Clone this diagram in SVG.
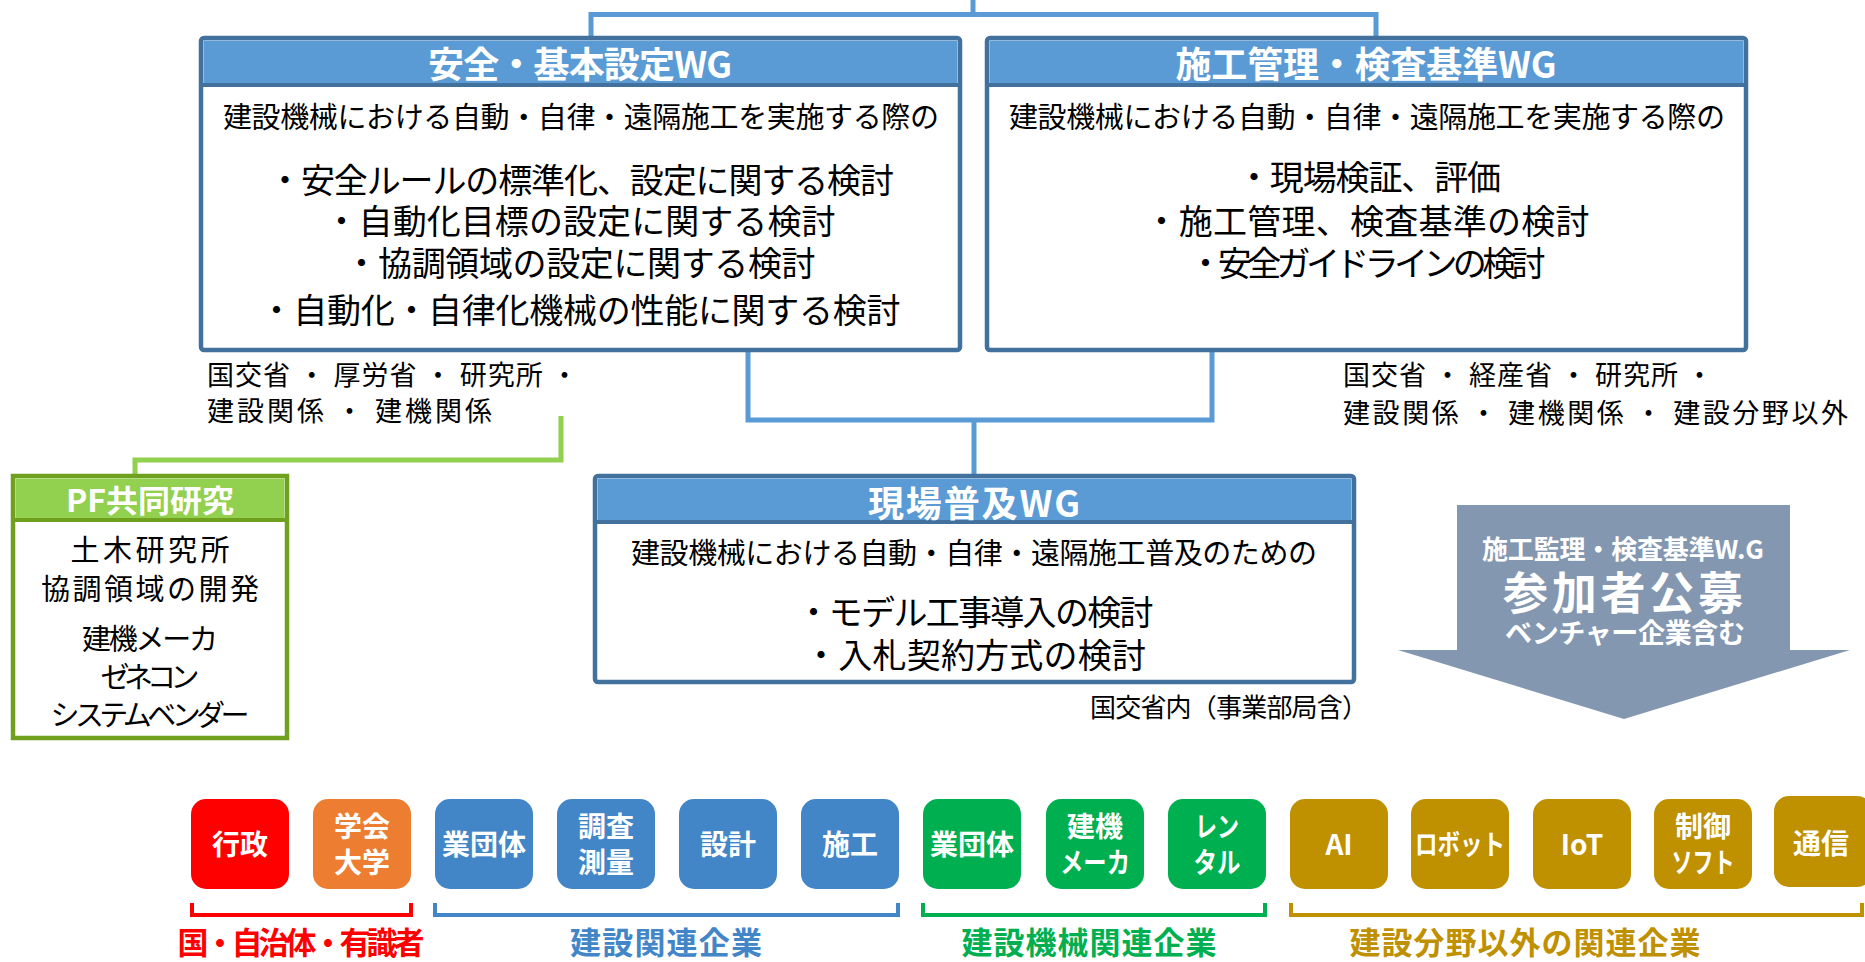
<svg xmlns="http://www.w3.org/2000/svg" width="1865" height="962" viewBox="0 0 1865 962">
<style>
text{font-family:"Noto Sans CJK JP","Noto Sans",sans-serif;dominant-baseline:central;text-anchor:middle}
.hd{font-size:36px;font-weight:bold;fill:#fff}
.l1{font-size:29px;fill:#000}
.bl{font-size:34px;fill:#000}
.nt{font-size:27px;fill:#000;text-anchor:start}
.wg{fill:#fff;stroke:#41719C;stroke-width:4.5}
.wgh{fill:#5B9BD5}
.sep{stroke:#41719C;stroke-width:4}
.con{fill:none;stroke:#5B9BD5;stroke-width:5}
.bx{font-size:28px;font-weight:bold;fill:#fff}
.lab{font-size:31px;font-weight:bold}
.br{fill:none;stroke-width:4}
.pf{font-size:29px;fill:#000}
</style>

<g id="connectors">
<polyline class="con" points="973,0 973,14.5"/>
<polyline class="con" points="591,38 591,14.5 1376,14.5 1376,38"/>
<polyline class="con" points="748,350 748,420 1212,420 1212,350"/>
<polyline class="con" points="974,420 974,476"/>
<polyline fill="none" stroke="#92D050" stroke-width="5" points="561,416 561,460 135,460 135,476"/>
</g>

<g id="wg-safety">
<rect class="wg" x="201" y="38" width="759" height="312" rx="3"/>
<rect class="wgh" x="203.5" y="40.5" width="754" height="44"/>
<line class="sep" x1="201" y1="85" x2="960" y2="85"/>
<text class="hd" x="580" y="62" textLength="304">安全・基本設定WG</text>
<text class="l1" x="581" y="115" textLength="716">建設機械における自動・自律・遠隔施工を実施する際の</text>
<text class="bl" x="581" y="178" textLength="626">・安全ルールの標準化、設定に関する検討</text>
<text class="bl" x="580" y="219" textLength="511">・自動化目標の設定に関する検討</text>
<text class="bl" x="580" y="261" textLength="471">・協調領域の設定に関する検討</text>
<text class="bl" x="580" y="308" textLength="641">・自動化・自律化機械の性能に関する検討</text>
</g>

<g id="wg-construction">
<rect class="wg" x="987" y="38" width="759" height="312" rx="3"/>
<rect class="wgh" x="989.5" y="40.5" width="754" height="44"/>
<line class="sep" x1="987" y1="85" x2="1746" y2="85"/>
<text class="hd" x="1366" y="62" textLength="381">施工管理・検査基準WG</text>
<text class="l1" x="1367" y="115" textLength="716">建設機械における自動・自律・遠隔施工を実施する際の</text>
<text class="bl" x="1369" y="175" textLength="264">・現場検証、評価</text>
<text class="bl" x="1367" y="219" textLength="445">・施工管理、検査基準の検討</text>
<text class="bl" x="1367" y="261" textLength="357">・安全ガイドラインの検討</text>
</g>

<g id="note-safety">
<text class="nt" x="207" y="373" textLength="371">国交省 ・ 厚労省 ・ 研究所 ・</text>
<text class="nt" x="207" y="409" textLength="285">建設関係 ・ 建機関係</text>
</g>

<g id="note-construction">
<text class="nt" x="1343" y="373" textLength="370">国交省 ・ 経産省 ・ 研究所 ・</text>
<text class="nt" x="1343" y="411" textLength="505">建設関係 ・ 建機関係 ・ 建設分野以外</text>
</g>

<g id="pf">
<rect x="13" y="476" width="274" height="262" fill="#fff" stroke="#6FA01E" stroke-width="4.5"/>
<rect x="15.5" y="478.5" width="269" height="41" fill="#92D050"/>
<line x1="13" y1="520" x2="287" y2="520" stroke="#6FA01E" stroke-width="4"/>
<text x="150" y="498" font-size="31" font-weight="bold" fill="#fff" textLength="168" lengthAdjust="spacingAndGlyphs">PF共同研究</text>
<text class="pf" x="150" y="548" textLength="159">土木研究所</text>
<text class="pf" x="150" y="587" textLength="218">協調領域の開発</text>
<text class="pf" x="150" y="637" textLength="136">建機メーカ</text>
<text class="pf" x="150" y="675" textLength="99">ゼネコン</text>
<text class="pf" x="150" y="713" textLength="199">システムベンダー</text>
</g>

<g id="wg-field">
<rect class="wg" x="595" y="476" width="759" height="206" rx="3"/>
<rect class="wgh" x="597.5" y="478.5" width="754" height="43"/>
<line class="sep" x1="595" y1="522" x2="1354" y2="522"/>
<text class="hd" x="974" y="501" textLength="212">現場普及WG</text>
<text class="l1" x="974" y="551" textLength="686">建設機械における自動・自律・遠隔施工普及のための</text>
<text class="bl" x="975" y="610" textLength="357">・モデル工事導入の検討</text>
<text class="bl" x="975" y="653" textLength="342">・入札契約方式の検討</text>
</g>

<g id="note-field">
<text x="1090" y="705" font-size="26" fill="#000" style="text-anchor:start" textLength="278">国交省内（事業部局含）</text>
</g>

<g id="recruit-arrow">
<polygon points="1457,505 1790,505 1790,650 1850,650 1624,719 1398,650 1457,650" fill="#8497B0"/>
<text x="1623" y="547" font-size="26" font-weight="bold" fill="#fff" textLength="282">施工監理・検査基準W.G</text>
<text x="1623" y="590" font-size="45" font-weight="bold" fill="#fff" textLength="240">参加者公募</text>
<text x="1625" y="631" font-size="27" font-weight="bold" fill="#fff" textLength="240">ベンチャー企業含む</text>
</g>

<g id="members">
<g id="m-gyosei"><rect x="191" y="799" width="98" height="90" rx="15" fill="#FF0000"/><text class="bx" x="240" y="843">行政</text></g>
<g id="m-gakkai"><rect x="313" y="799" width="98" height="90" rx="15" fill="#ED7D31"/><text class="bx" x="362" y="825">学会</text><text class="bx" x="362" y="861">大学</text></g>
<g id="m-gyodantai1"><rect x="435" y="799" width="98" height="90" rx="15" fill="#4286C8"/><text class="bx" x="484" y="843">業団体</text></g>
<g id="m-chosa"><rect x="557" y="799" width="98" height="90" rx="15" fill="#4286C8"/><text class="bx" x="606" y="825">調査</text><text class="bx" x="606" y="861">測量</text></g>
<g id="m-sekkei"><rect x="679" y="799" width="98" height="90" rx="15" fill="#4286C8"/><text class="bx" x="728" y="843">設計</text></g>
<g id="m-sekou"><rect x="801" y="799" width="98" height="90" rx="15" fill="#4286C8"/><text class="bx" x="850" y="843">施工</text></g>
<g id="m-gyodantai2"><rect x="923" y="799" width="98" height="90" rx="15" fill="#00B050"/><text class="bx" x="972" y="843">業団体</text></g>
<g id="m-kenki"><rect x="1046" y="799" width="98" height="90" rx="15" fill="#00B050"/><text class="bx" x="1095" y="825">建機</text><text class="bx" x="1095" y="861" textLength="70" lengthAdjust="spacingAndGlyphs">メーカ</text></g>
<g id="m-rental"><rect x="1168" y="799" width="98" height="90" rx="15" fill="#00B050"/><text class="bx" x="1217" y="825" textLength="44" lengthAdjust="spacingAndGlyphs">レン</text><text class="bx" x="1217" y="861" textLength="47" lengthAdjust="spacingAndGlyphs">タル</text></g>
<g id="m-ai"><rect x="1290" y="799" width="98" height="90" rx="15" fill="#BF9000"/><text class="bx" x="1339" y="843" font-size="31">AI</text></g>
<g id="m-robot"><rect x="1411" y="799" width="98" height="90" rx="15" fill="#BF9000"/><text class="bx" x="1460" y="843" textLength="90" lengthAdjust="spacingAndGlyphs">ロボット</text></g>
<g id="m-iot"><rect x="1533" y="799" width="98" height="90" rx="15" fill="#BF9000"/><text class="bx" x="1582" y="843" font-size="30">IoT</text></g>
<g id="m-seigyo"><rect x="1654" y="799" width="98" height="90" rx="15" fill="#BF9000"/><text class="bx" x="1703" y="825">制御</text><text class="bx" x="1703" y="861" textLength="63" lengthAdjust="spacingAndGlyphs">ソフト</text></g>
<g id="m-tsushin"><rect x="1774" y="796" width="98" height="91" rx="15" fill="#BF9000"/><text class="bx" x="1821" y="842">通信</text></g>
</g>

<g id="groups">
<polyline class="br" stroke="#FF0000" points="192,903 192,915 411,915 411,903"/>
<text class="lab" x="301" y="940" fill="#FF0000" textLength="247">国・自治体・有識者</text>
<polyline class="br" stroke="#4286C8" points="435,903 435,915 898,915 898,903"/>
<text class="lab" x="666" y="940" fill="#4286C8" textLength="192">建設関連企業</text>
<polyline class="br" stroke="#00B050" points="923,903 923,915 1265,915 1265,903"/>
<text class="lab" x="1089" y="940" fill="#00B050" textLength="255">建設機械関連企業</text>
<polyline class="br" stroke="#BF9000" points="1291,903 1291,915 1862,915 1862,903"/>
<text class="lab" x="1525" y="940" fill="#BF9000" textLength="351">建設分野以外の関連企業</text>
</g>
</svg>
